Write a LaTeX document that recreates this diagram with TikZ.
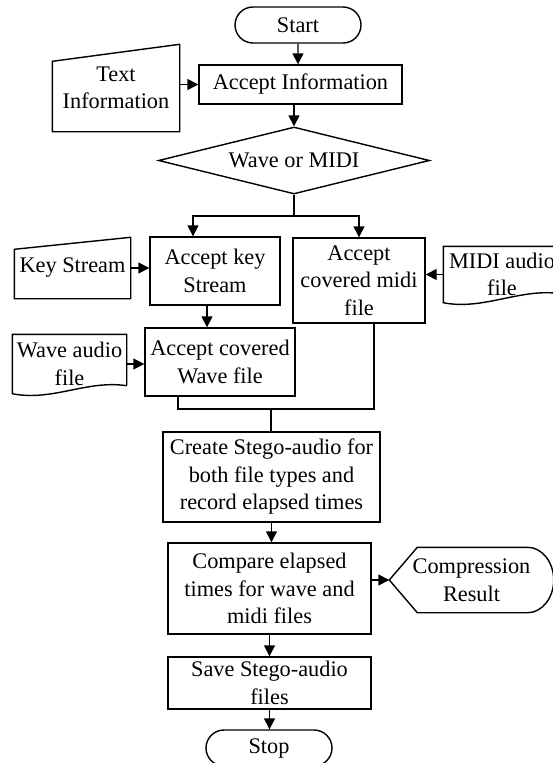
\documentclass[tikz,border=0pt]{standalone}
\usepackage{fontspec}
\setmainfont{Liberation Serif}
\usetikzlibrary{shapes.geometric,shapes.misc,arrows.meta}
\begin{document}
\begin{tikzpicture}[x=1pt,y=-1pt,line width=1.4pt,
  every node/.style={font=\fontsize{22.3}{27.5}\selectfont,align=center,inner sep=0pt},
  box/.style={draw,rectangle},
  term/.style={draw,rounded rectangle,minimum width=126pt,minimum height=36pt},
  arr/.style={-{Triangle[length=11pt,width=11pt]}}]
% Stego-audio flowchart, positions taken from the 553x763 source in px
\useasboundingbox (0,0) rectangle (553,763);
\node[term] (start) at (298,25) {Start};
\node[box,minimum width=203pt,minimum height=39pt] (accinfo) at (300.5,84.5) {Accept Information};
\node[minimum width=126pt,minimum height=86pt] (textinfo) at (116,88) {Text\\Information};
\node[draw,diamond,aspect=4,minimum width=271pt,minimum height=67pt] (decide) at (294,160.5) {Wave or MIDI};
\node[box,minimum width=130pt,minimum height=68pt] (acckey) at (215,271) {Accept key\\Stream};
\node[box,minimum width=132pt,minimum height=85pt] (accmidi) at (359,280.5) {Accept\\covered midi\\file};
\node[minimum width=115pt,minimum height=60pt] (keystream) at (72.5,268) {Key Stream};
\node[minimum width=116pt,minimum height=55pt] (midifile) at (502,274.5) {MIDI audio\\file};
\node[minimum width=113pt,minimum height=58pt] (wavefile) at (69.5,364) {Wave audio\\file};
\node[box,minimum width=150pt,minimum height=68pt] (accwave) at (220,362) {Accept covered\\Wave file};
\node[box,minimum width=217pt,minimum height=90pt] (create) at (271.5,477) {Create Stego-audio for\\both file types and\\record elapsed times};
\node[box,minimum width=203pt,minimum height=91pt] (compare) at (269.5,588.5) {Compare elapsed\\times for wave and\\midi files};
\node[minimum width=163pt,minimum height=64pt] (result) at (471.5,580) {Compression\\Result};
\node[box,minimum width=203pt,minimum height=52pt] (save) at (269.5,683) {Save Stego-audio\\files};
\node[term] (stop) at (269,748) {Stop};
% manual inputs, documents and display
\draw (textinfo.south west) -- (textinfo.south east) -- (textinfo.north east) -- ([yshift=-17pt]textinfo.north west) -- cycle;
\draw (keystream.south west) -- (keystream.south east) -- (keystream.north east) -- ([yshift=-12pt]keystream.north west) -- cycle;
\draw ([yshift=8pt]wavefile.south east) -- (wavefile.north east) -- (wavefile.north west) -- (wavefile.south west)
  .. controls ([xshift=40pt,yshift=-8pt]wavefile.south west) and ([xshift=-40pt,yshift=14pt]wavefile.south east) .. ([yshift=8pt]wavefile.south east);
\draw ([yshift=9pt]midifile.south east) -- (midifile.north east) -- (midifile.north west) -- (midifile.south west)
  .. controls ([xshift=40pt,yshift=-8pt]midifile.south west) and ([xshift=-40pt,yshift=15pt]midifile.south east) .. ([yshift=9pt]midifile.south east);
\draw (result.west) -- ([xshift=28pt]result.north west) -- ([xshift=-26pt]result.north east)
  .. controls ([xshift=-11.6pt]result.north east) and ([yshift=17.7pt]result.east) .. (result.east)
  .. controls ([yshift=-17.7pt]result.east) and ([xshift=-11.6pt]result.south east) .. ([xshift=-26pt]result.south east)
  -- ([xshift=28pt]result.south west) -- cycle;
% connectors
\foreach \a/\b in {start/accinfo,create/compare,compare/save,save/stop}
  \draw[arr] (\a) -- (\a |- \b.north);
\foreach \a/\b in {keystream/acckey,wavefile/accwave}
  \draw[arr] (\a) -- (\a -| \b.west);
\draw[arr] (textinfo.east |- accinfo) -- (accinfo.west);
\draw[arr] (accinfo.south -| decide) -- (decide);
\coordinate (split) at (294,216);
\draw (decide.south) -- (split);
\draw[arr] (split) -| ([xshift=-22pt]acckey.north);
\draw[arr] (split) -| (accmidi);
\draw[arr] (midifile.west) -- (midifile.west -| accmidi.east);
\draw[arr] ([xshift=-8pt]acckey.south) -- ([xshift=-8pt]acckey.south |- accwave.north);
\coordinate (join) at (271,409);
\draw ([xshift=-42pt]accwave.south) |- (join) -| ([xshift=15pt]accmidi.south);
\draw (join) -- (join |- create.north);
\draw[arr] (compare.east |- result.west) -- (result.west);
\end{tikzpicture}
\end{document}
